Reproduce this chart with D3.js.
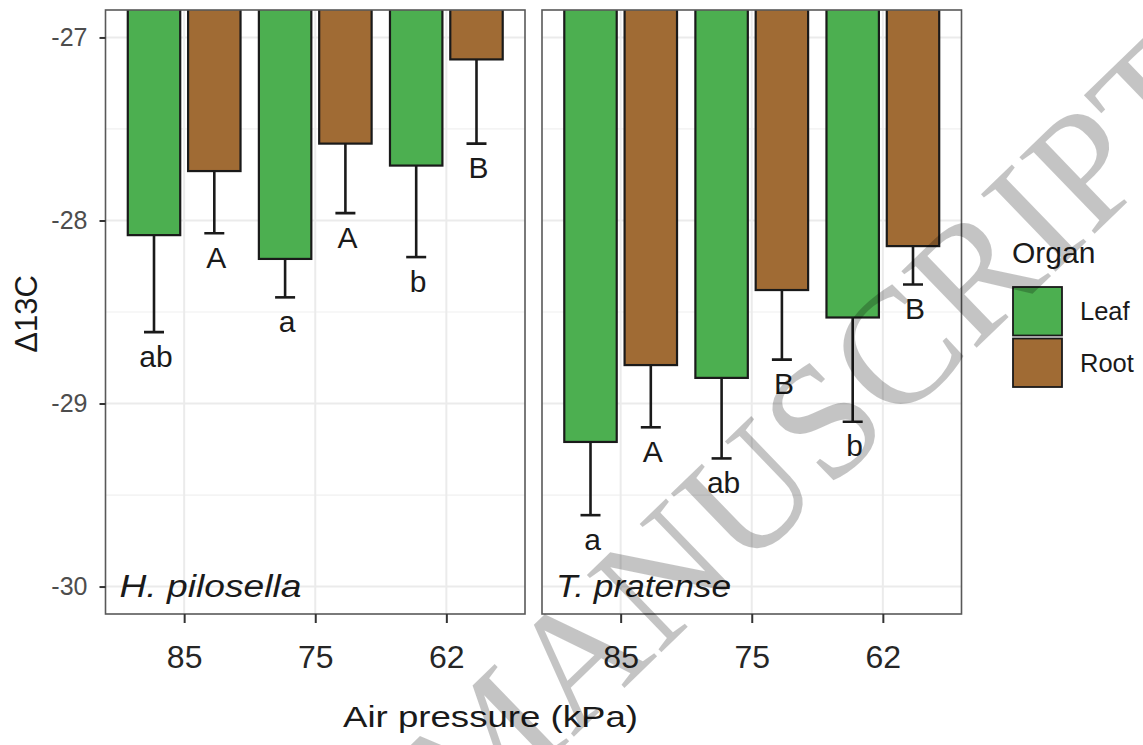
<!DOCTYPE html>
<html>
<head>
<meta charset="utf-8">
<script src="https://cdn.jsdelivr.net/npm/d3@7"></script>
<style>
body { margin: 0; background: #fff; }
svg { display: block; }
text { font-family: "Liberation Sans", Arial, Helvetica, sans-serif; }
</style>
</head>
<body>
<svg width="1143" height="745"></svg>
<script>
// data
var pressures = ["85", "75", "62"];
var organs = ["Leaf", "Root"];
var species = ["H. pilosella", "T. pratense"];
var yTicks = [-27, -28, -29, -30];
var yMinor = [-27.5, -28.5, -29.5];

var hpLeafMean = [-28.08, -28.21, -27.70];
var hpLeafSd   = [0.53, 0.21, 0.50];
var hpRootMean = [-27.73, -27.58, -27.12];
var hpRootSd   = [0.34, 0.38, 0.46];
var tpLeafMean = [-29.21, -28.86, -28.53];
var tpLeafSd   = [0.40, 0.44, 0.57];
var tpRootMean = [-28.79, -28.38, -28.14];
var tpRootSd   = [0.34, 0.38, 0.21];

var hpLeafLetters = ["ab", "a", "b"];
var hpRootLetters = ["A", "A", "B"];
var tpLeafLetters = ["a", "ab", "b"];
var tpRootLetters = ["A", "B", "B"];

var colors = { Leaf: "#4caf50", Root: "#a06b34" };

function rows(organ, mean, sd, letters) {
    return pressures.map(function(p, i) {
        return { p: p, organ: organ, mean: mean[i], sd: sd[i], letter: letters[i] };
    });
}

var panels = [
    { name: species[0], x0: 105.5, x1: 525,
      data: rows("Leaf", hpLeafMean, hpLeafSd, hpLeafLetters).concat(rows("Root", hpRootMean, hpRootSd, hpRootLetters)) },
    { name: species[1], x0: 542, x1: 961.5,
      data: rows("Leaf", tpLeafMean, tpLeafSd, tpLeafLetters).concat(rows("Root", tpRootMean, tpRootSd, tpRootLetters)) }
];

var panelTop = 10, panelBottom = 614;
var svg = d3.select("svg");

var y = d3.scaleLinear().domain([-30.15, -26.85]).range([panelBottom, panelTop]);

panels.forEach(function(panel, pi) {
    var x = d3.scalePoint().domain(pressures).range([panel.x0, panel.x1]).padding(0.6);
    var step = x.step();
    var barW = step * 0.4;
    var off = d3.scaleOrdinal().domain(organs).range([-0.23 * step, 0.23 * step]);

    var g = svg.append("g");

    g.append("clipPath").attr("id", "clip" + pi)
      .append("rect")
        .attr("x", panel.x0).attr("y", panelTop)
        .attr("width", panel.x1 - panel.x0).attr("height", panelBottom - panelTop);

    // grid
    g.selectAll(".minor").data(yMinor).enter().append("line")
        .attr("x1", panel.x0).attr("x2", panel.x1)
        .attr("y1", d => y(d)).attr("y2", d => y(d))
        .attr("stroke", "#f0f0f0").attr("stroke-width", 1.2);
    g.selectAll(".major").data(yTicks).enter().append("line")
        .attr("x1", panel.x0).attr("x2", panel.x1)
        .attr("y1", d => y(d)).attr("y2", d => y(d))
        .attr("stroke", "#ebebeb").attr("stroke-width", 2);
    g.selectAll(".vmajor").data(pressures).enter().append("line")
        .attr("x1", d => x(d)).attr("x2", d => x(d))
        .attr("y1", panelTop).attr("y2", panelBottom)
        .attr("stroke", "#ebebeb").attr("stroke-width", 2);

    var marks = g.append("g").attr("clip-path", "url(#clip" + pi + ")");

    marks.selectAll("rect.bar").data(panel.data).enter().append("rect")
        .attr("class", "bar")
        .attr("x", d => x(d.p) + off(d.organ) - barW / 2)
        .attr("y", panelTop - 4)
        .attr("width", barW)
        .attr("height", d => y(d.mean) - (panelTop - 4))
        .attr("fill", d => colors[d.organ])
        .attr("stroke", "#1a1a1a").attr("stroke-width", 2.2);

    // lower error bars
    marks.selectAll("line.err").data(panel.data).enter().append("line")
        .attr("x1", d => x(d.p) + off(d.organ)).attr("x2", d => x(d.p) + off(d.organ))
        .attr("y1", d => y(d.mean)).attr("y2", d => y(d.mean - d.sd))
        .attr("stroke", "#1a1a1a").attr("stroke-width", 2.6);
    marks.selectAll("line.cap").data(panel.data).enter().append("line")
        .attr("x1", d => x(d.p) + off(d.organ) - 10).attr("x2", d => x(d.p) + off(d.organ) + 10)
        .attr("y1", d => y(d.mean - d.sd)).attr("y2", d => y(d.mean - d.sd))
        .attr("stroke", "#1a1a1a").attr("stroke-width", 2.6);

    marks.selectAll("text.letter").data(panel.data).enter().append("text")
        .attr("x", d => x(d.p) + off(d.organ) + 2)
        .attr("y", d => y(d.mean - d.sd) + 34.5)
        .attr("text-anchor", "middle")
        .attr("font-size", 30)
        .attr("fill", "#1a1a1a")
        .text(d => d.letter);

    g.append("text")
        .attr("x", panel.x0 + 14).attr("y", 597)
        .attr("font-size", 31).attr("font-style", "italic")
        .attr("fill", "#1a1a1a")
        .attr("textLength", pi == 0 ? 182 : 175).attr("lengthAdjust", "spacingAndGlyphs")
        .text(panel.name);

    g.append("rect")
        .attr("x", panel.x0).attr("y", panelTop)
        .attr("width", panel.x1 - panel.x0).attr("height", panelBottom - panelTop)
        .attr("fill", "none").attr("stroke", "#595959").attr("stroke-width", 1.6);

    var xAxis = g.append("g")
        .attr("transform", "translate(0," + panelBottom + ")")
        .call(d3.axisBottom(x).tickSize(9).tickPadding(22));
    xAxis.select(".domain").remove();
    xAxis.selectAll("line").attr("stroke", "#333").attr("stroke-width", 2);
    xAxis.selectAll("text").attr("font-size", 32).attr("fill", "#262626")
        .style("font-family", "Liberation Sans, Arial, sans-serif");
});

var yAxis = svg.append("g")
    .attr("transform", "translate(105.5,0)")
    .call(d3.axisLeft(y).tickValues(yTicks).tickSize(6).tickPadding(12).tickFormat(d => String(d)));
yAxis.select(".domain").remove();
yAxis.selectAll("line").attr("stroke", "#333").attr("stroke-width", 2);
yAxis.selectAll("text").attr("font-size", 25).attr("fill", "#4d4d4d")
    .style("font-family", "Liberation Sans, Arial, sans-serif");

// axis titles
svg.append("text")
    .attr("transform", "translate(36.5,314) rotate(-90)")
    .attr("text-anchor", "middle")
    .attr("font-size", 31).attr("fill", "#1a1a1a")
    .text("\u039413C");

svg.append("text")
    .attr("x", 343).attr("y", 727)
    .attr("font-size", 30).attr("fill", "#1a1a1a")
    .attr("textLength", 295).attr("lengthAdjust", "spacingAndGlyphs")
    .text("Air pressure (kPa)");

// legend
var legend = svg.append("g").attr("transform", "translate(1012,0)");
legend.append("text").attr("x", 0).attr("y", 263)
    .attr("font-size", 30).attr("fill", "#1a1a1a").text("Organ");
var keys = legend.selectAll("g.key").data(organs).enter().append("g")
    .attr("transform", (d, i) => "translate(0," + (287 + i * 51.5) + ")");
keys.append("rect")
    .attr("x", 1).attr("y", 0).attr("width", 49).attr("height", 48.5)
    .attr("fill", d => colors[d]).attr("stroke", "#1a1a1a").attr("stroke-width", 1.8);
keys.append("text")
    .attr("x", 68).attr("y", 33)
    .attr("font-size", 25.5).attr("fill", "#1a1a1a")
    .text(d => d);

// watermark overlay
svg.append("text")
    .attr("transform", "translate(848,472) rotate(-44)")
    .attr("text-anchor", "middle")
    .style("font-family", "'Liberation Serif', 'Times New Roman', serif")
    .attr("font-size", 164)
    .attr("fill", "#000").attr("fill-opacity", 0.23)
    .text("MANUSCRIPT");
</script>
</body>
</html>
